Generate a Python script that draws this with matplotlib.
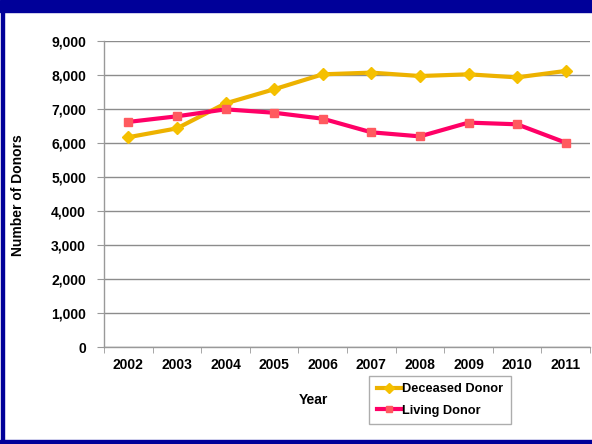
import matplotlib
matplotlib.use("Agg")
import matplotlib.pyplot as plt
from matplotlib.patches import Rectangle
from matplotlib.ticker import FuncFormatter, FixedLocator

years = ["2002", "2003", "2004", "2005", "2006", "2007", "2008", "2009", "2010", "2011"]
deceased = [6170, 6430, 7165, 7580, 8020, 8070, 7970, 8020, 7930, 8120]
living = [6620, 6785, 6990, 6890, 6715, 6315, 6195, 6600, 6550, 6010]
y_ticks = [0, 1000, 2000, 3000, 4000, 5000, 6000, 7000, 8000, 9000]

plt.rcParams['font.family'] = ['Liberation Sans', 'DejaVu Sans']

W, H = 592, 444
fig = plt.figure(figsize=(W / 100, H / 100), dpi=100)
fig.patch.set_facecolor("white")

# frame
navy = "#000099"
fig.add_artist(Rectangle((0, 1 - 12 / H), 1, 12 / H, transform=fig.transFigure, color=navy, zorder=10))
fig.add_artist(Rectangle((1 / W, 0), 3 / W, 1, transform=fig.transFigure, color=navy, zorder=10))
fig.add_artist(Rectangle((0, 0), 1, 4 / H, transform=fig.transFigure, color=navy, zorder=10))

left, right, top, bottom = 104, 590, 41, 347
ax = fig.add_axes([left / W, 1 - bottom / H, (right - left) / W, (bottom - top) / H])

x = list(range(len(years)))
ax.plot(x, deceased, color="#EDB200", lw=3, marker="D", markersize=6,
        markerfacecolor="#F5C000", markeredgecolor="#F5C000", label="Deceased Donor", zorder=3)
ax.plot(x, living, color="#FF0066", lw=3, marker="s", markersize=6,
        markerfacecolor="#FF5A5F", markeredgecolor="#FF5A5F", label="Living Donor", zorder=3)

ax.set_xlim(-0.5, len(years) - 0.5)
ax.set_ylim(0, 9000)
ax.set_yticks(y_ticks)
ax.yaxis.set_major_formatter(FuncFormatter(lambda v, p: f"{int(v):,}"))
ax.set_xticks(x)
ax.set_xticklabels(years)
ax.xaxis.set_minor_locator(FixedLocator([i - 0.5 for i in range(len(years) + 1)]))

ax.grid(axis="y", color="#8c8c8c", lw=1)
ax.set_axisbelow(True)
for s in ["top", "right"]:
    ax.spines[s].set_visible(False)
for s in ["left", "bottom"]:
    ax.spines[s].set_color("#999999")
    ax.spines[s].set_linewidth(1)

ax.tick_params(axis="y", direction="out", length=5, color="#999999", pad=8, labelsize=10)
ax.tick_params(axis="x", which="major", length=0, pad=8, labelsize=10)
ax.tick_params(axis="x", which="minor", direction="out", length=4, color="#999999")
for lab in ax.get_xticklabels() + ax.get_yticklabels():
    lab.set_fontweight("bold")

fig.text(313 / W, 1 - 400 / H, "Year", ha="center", va="center", fontsize=10, fontweight="bold")
fig.text(18 / W, 1 - 195 / H, "Number of Donors", ha="center", va="center", rotation=90,
         fontsize=10, fontweight="bold")

leg = fig.legend(loc="center", bbox_to_anchor=(440 / W, 1 - 400 / H), frameon=True,
                 fancybox=False, edgecolor="#999999", handlelength=1.9, handletextpad=0.05,
                 borderpad=0.6, borderaxespad=0, labelspacing=0.75, markerscale=0.8,
                 prop={"weight": "bold", "size": 9.2})
leg.get_frame().set_linewidth(1)

fig.savefig("out.png", dpi=100)
